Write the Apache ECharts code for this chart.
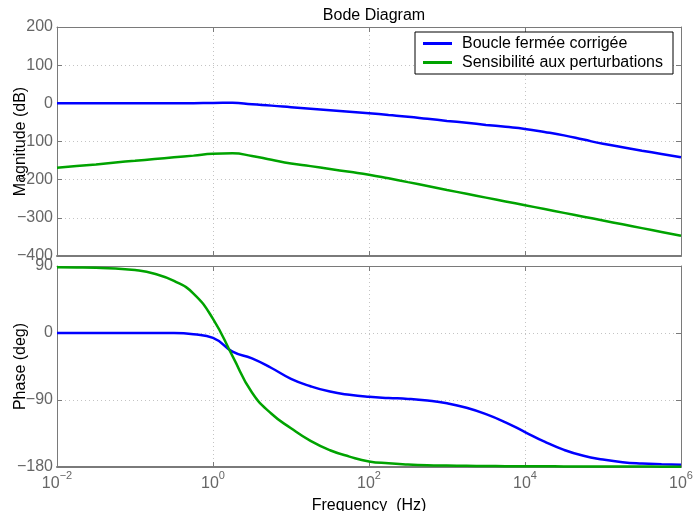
<!DOCTYPE html>
<html><head><meta charset="utf-8">
<script src="https://cdn.jsdelivr.net/npm/echarts@6/dist/echarts.min.js"></script>
<style>html,body{margin:0;padding:0;background:#fff}#c{width:694px;height:511px}</style>
</head><body><div id="c"></div>
<script>
// ---- data (frequency in Hz, every quarter decade) ----
const freq = [0.01, 0.0178, 0.0316, 0.0562, 0.1, 0.178, 0.316, 0.562, 1, 1.78, 3.16, 5.62, 10, 17.8, 31.6, 56.2,
  100, 178, 316, 562, 1000, 1780, 3160, 5620, 1e4, 1.78e4, 3.16e4, 5.62e4, 1e5, 1.78e5, 3.16e5, 5.62e5, 1e6];
const magClosedLoop = [0, 0, 0, 0, 0, 0, 0.1, 0.4, 1, 1.3, -2.7, -6, -10, -14, -18, -22,
  -26, -30.5, -35, -40.5, -46, -51, -56.5, -61.5, -67, -75, -84, -95, -106, -115, -124, -132.5, -141];
const magSensitivity = [-169, -164.5, -160, -155, -150.5, -146, -141.5, -137, -132, -131, -138, -148, -157.5, -164.5, -172, -179.5,
  -187, -196.5, -206.5, -216.5, -227, -237, -247, -257, -267, -277, -287, -297, -307, -317, -327, -337, -347];
const phaseClosedLoop = [0, 0, 0, 0, 0, 0, -0.1, -1.8, -6.5, -25, -34, -47, -61.5, -71.5, -78.7, -83,
  -85.7, -87.3, -88.5, -90.8, -94.5, -100.5, -109, -120, -133, -146, -157, -165, -170, -173.5, -175.3, -176.3, -177];
const phaseSensitivity = [88.3, 88, 87.5, 86.5, 84.5, 79.5, 70, 53, 19, -31, -80, -108.5, -128, -145, -157.5, -166,
  -172.5, -175, -176.5, -177.5, -178, -178.4, -178.7, -178.9, -179, -179.1, -179.2, -179.3, -179.3, -179.4, -179.4, -179.5, -179.5];

const magTicks = [-400, -300, -200, -100, 0, 100, 200];
const phaseTicks = [-180, -90, 0, 90];
const seriesNames = ['Boucle fermée corrigée', 'Sensibilité aux perturbations'];
const titleText = 'Bode Diagram';
const xName = 'Frequency  (Hz)';
const magName = 'Magnitude (dB)';
const phaseName = 'Phase (deg)';

// ---- chart ----
const zip = (xs, ys) => xs.map((x, i) => [x, ys[i]]);
const FONT = '"Liberation Sans", Arial, Helvetica, sans-serif';
const LABEL = '#666';
const AXIS = '#7a7a7a';
const minus = s => String(s).replace('-', '\u2212');

const gridLine = { show: true, lineStyle: { color: '#c4c4c4', type: [1, 3], width: 1 } };

function xAx(gridIndex, pos, opts) {
  return Object.assign({
    type: 'log', logBase: 10, min: 0.01, max: 1e6, interval: 2,
    gridIndex, position: pos,
    axisLine: { show: true, onZero: false, lineStyle: { color: AXIS, width: pos === 'bottom' ? 2 : 1 } },
    axisTick: { show: true, inside: true, length: 5, lineStyle: { color: AXIS } },
    axisLabel: { show: false },
    splitLine: { show: false },
    minorTick: { show: false }
  }, opts || {});
}
function yAx(gridIndex, pos, min, max, interval, opts) {
  return Object.assign({
    type: 'value', min, max, interval, gridIndex, position: pos,
    axisLine: { show: true, onZero: false, lineStyle: { color: AXIS, width: 1 } },
    axisTick: { show: true, inside: true, length: 5, lineStyle: { color: AXIS } },
    axisLabel: { show: false },
    splitLine: { show: false }
  }, opts || {});
}

const xLabel = {
  show: true, margin: 3, color: LABEL, fontFamily: FONT,
  formatter: v => {
    const e = Math.round(Math.log10(v));
    return '{b|10}{s|' + minus(e) + '}';
  },
  rich: {
    b: { fontSize: 16, fontFamily: FONT, color: LABEL, lineHeight: 22, verticalAlign: 'bottom' },
    s: { fontSize: 11, fontFamily: FONT, color: LABEL, lineHeight: 12, verticalAlign: 'top' }
  }
};
const yLabel = { show: true, margin: 4, color: LABEL, fontSize: 16, fontFamily: FONT, formatter: v => minus(v) };
const nameStyle = { color: '#000', fontSize: 16, fontFamily: FONT };

const lineSeries = (name, xi, data, color) => ({
  name, type: 'line', xAxisIndex: xi, yAxisIndex: xi, data, showSymbol: false,
  smooth: 0.5,
  lineStyle: { color, width: 2.5 }, itemStyle: { color }
});

const chart = echarts.init(document.getElementById('c'), null, { renderer: 'canvas' });
chart.setOption({
  animation: false,
  backgroundColor: '#fff',
  title: {
    text: titleText, left: 369, top: 3, textAlign: 'center',
    textStyle: { color: '#000', fontSize: 16, fontWeight: 'normal', fontFamily: FONT }
  },
  legend: {
    orient: 'vertical', left: 415, top: 32,
    backgroundColor: '#fff', borderColor: '#000', borderWidth: 1,
    padding: [2, 10, 2, 8], itemGap: 0, itemWidth: 29, itemHeight: 3, icon: 'rect',
    textStyle: { fontSize: 16, fontFamily: FONT, color: '#000', lineHeight: 19, padding: [0, 0, 0, 5] },
    data: seriesNames
  },
  grid: [
    { left: 57, top: 27, width: 624, height: 229, containLabel: false, outerBoundsMode: 'none' },
    { left: 57, top: 266, width: 624, height: 201, containLabel: false, outerBoundsMode: 'none' }
  ],
  xAxis: [
    xAx(0, 'bottom', { splitLine: gridLine }),
    xAx(0, 'top'),
    xAx(1, 'bottom', { splitLine: gridLine, axisLabel: xLabel, name: xName, nameLocation: 'middle', nameGap: 31, nameMoveOverlap: false, nameTextStyle: nameStyle }),
    xAx(1, 'top')
  ],
  yAxis: [
    yAx(0, 'left', magTicks[0], magTicks[magTicks.length - 1], 100, { axisLabel: yLabel, splitLine: gridLine, name: magName, nameLocation: 'middle', nameGap: 28, nameMoveOverlap: false, nameTextStyle: nameStyle }),
    yAx(0, 'right', magTicks[0], magTicks[magTicks.length - 1], 100),
    yAx(1, 'left', phaseTicks[0], phaseTicks[phaseTicks.length - 1], 90, { axisLabel: yLabel, splitLine: gridLine, name: phaseName, nameLocation: 'middle', nameGap: 28, nameMoveOverlap: false, nameTextStyle: nameStyle }),
    yAx(1, 'right', phaseTicks[0], phaseTicks[phaseTicks.length - 1], 90)
  ],
  series: [
    lineSeries(seriesNames[0], 0, zip(freq, magClosedLoop), '#0000ff'),
    lineSeries(seriesNames[1], 0, zip(freq, magSensitivity), '#00a300'),
    lineSeries(seriesNames[0], 2, zip(freq, phaseClosedLoop), '#0000ff'),
    lineSeries(seriesNames[1], 2, zip(freq, phaseSensitivity), '#00a300')
  ]
});
</script>
</body></html>
